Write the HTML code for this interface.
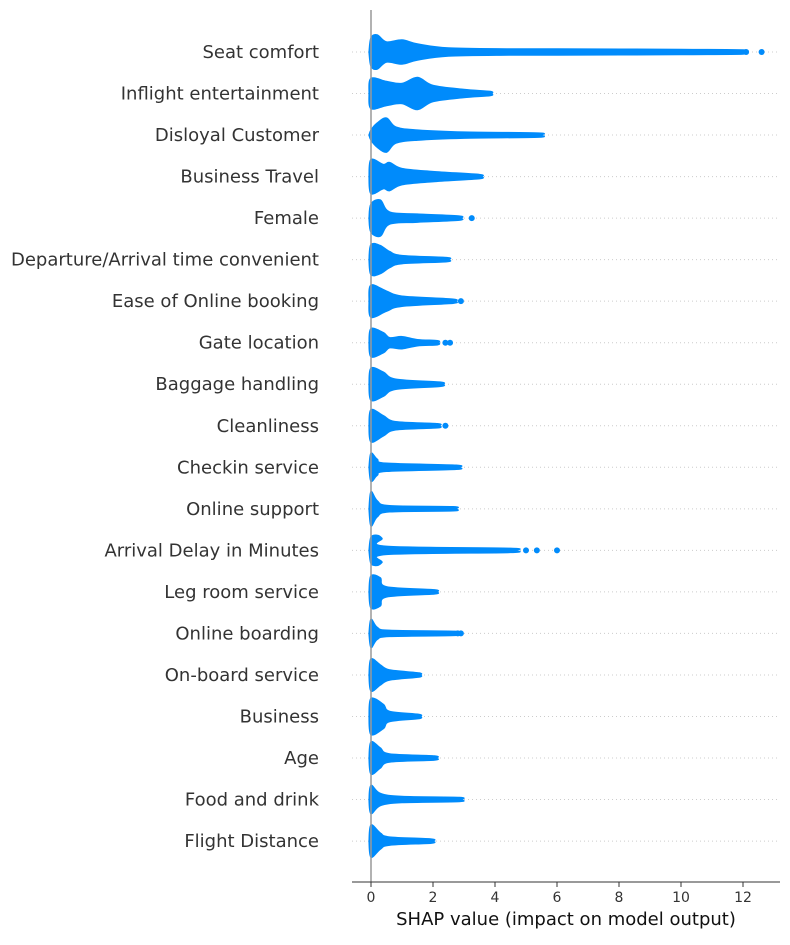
<!DOCTYPE html>
<html><head><meta charset="utf-8"><style>
body{margin:0;background:#fff}
svg text{font-family:"DejaVu Sans","Liberation Sans",sans-serif}
</style></head><body>
<svg id="chart" width="790" height="940" xmlns="http://www.w3.org/2000/svg">
<g id="grid"></g><g id="marks"></g><g id="labels"></g><g id="axis"></g>
</svg>
<script>
const features=["Seat comfort","Inflight entertainment","Disloyal Customer","Business Travel","Female","Departure/Arrival time convenient","Ease of Online booking","Gate location","Baggage handling","Cleanliness","Checkin service","Online support","Arrival Delay in Minutes","Leg room service","Online boarding","On-board service","Business","Age","Food and drink","Flight Distance"];
const profiles=[
[[0,14],[0.2,17],[0.5,10],[1,12],[1.5,8],[2.5,4],[4.5,3],[6,3],[10,2.5],[12,2]],
[[0,15],[0.5,12],[1,10],[1.5,16],[2,8],[3,4],[3.85,2]],
[[0,5],[0.2,12],[0.5,17],[0.8,8],[1.5,5],[3,3],[5.4,2]],
[[0,17],[0.4,12],[0.6,14],[1,8],[2,5],[3.5,2]],
[[0,14],[0.3,18],[0.6,6],[1.5,4],[2.85,2]],
[[0,15],[0.3,14],[0.6,8],[1,4],[2.45,2]],
[[0,16],[0.5,10],[1,5],[2.65,2]],
[[0,14],[0.4,10],[0.6,5],[1.0,6],[1.5,3],[2.15,2]],
[[0,16],[0.4,12],[0.8,5],[2.25,2]],
[[0,16],[0.4,10],[0.8,4],[2.15,2]],
[[0,14],[0.2,8],[0.5,4],[2.75,2]],
[[0,17],[0.2,8],[0.6,3],[2.65,2]],
[[0,13],[0.2,15],[0.35,12],[0.5,4],[4.5,2]],
[[0,16],[0.3,14],[0.5,5],[2.05,2]],
[[0,14],[0.2,6],[0.6,3],[2.7,2]],
[[0,16],[0.3,10],[0.6,5],[1.55,2]],
[[0,18],[0.4,12],[0.6,5],[1.55,2]],
[[0,16],[0.3,10],[0.6,4],[2.05,2]],
[[0,14],[0.3,6],[1,3],[2.85,2]],
[[0,16],[0.3,8],[0.6,4],[1.95,2]]
];
const outliers=[[12.1,12.6],[],[],[],[3.25],[],[2.9],[2.4,2.55],[],[2.4],[],[],[5.0,5.35,6.0],[],[2.8,2.9],[],[],[],[],[]];
const xTicks=[0,2,4,6,8,10,12];
const NS="http://www.w3.org/2000/svg";
const xs=v=>371+v*31;
const ys=i=>52+i*41.53;
function mk(t,a,p){const e=document.createElementNS(NS,t);for(const k in a)e.setAttribute(k,a[k]);p.appendChild(e);return e;}
function smooth(pts){
  let d=`M${pts[0][0]},${pts[0][1]}`;
  for(let i=0;i<pts.length-1;i++){
    const p0=pts[Math.max(0,i-1)],p1=pts[i],p2=pts[i+1],p3=pts[Math.min(pts.length-1,i+2)];
    const c1=[p1[0]+(p2[0]-p0[0])/6,p1[1]+(p2[1]-p0[1])/6];
    const c2=[p2[0]-(p3[0]-p1[0])/6,p2[1]-(p3[1]-p1[1])/6];
    d+=` C${c1[0].toFixed(1)},${c1[1].toFixed(1)} ${c2[0].toFixed(1)},${c2[1].toFixed(1)} ${p2[0].toFixed(1)},${p2[1].toFixed(1)}`;
  }
  return d;
}
const grid=document.getElementById('grid'),marks=document.getElementById('marks'),labels=document.getElementById('labels'),axis=document.getElementById('axis');
features.forEach((f,i)=>{
  const y=ys(i);
  const g=mk('line',{x1:352,x2:780,y1:y,y2:y,stroke:'#ccc','stroke-width':1,'stroke-dasharray':'1,3'},grid);
  
  
  const t=mk('text',{x:319,y:y+6,'text-anchor':'end','font-size':18,fill:'#333'},labels);
  t.textContent=f;
  
  
  const pr=profiles[i];
  const last=pr[pr.length-1];
  const upPts=[[xs(-0.06),y]].concat(pr.map(p=>[xs(p[0]),y-p[1]]),[[xs(last[0])+1,y]]);
  const dnPts=[[xs(last[0])+1,y]].concat(pr.slice().reverse().map(p=>[xs(p[0]),y+p[1]]),[[xs(-0.06),y]]);
  const d=smooth(upPts)+' '+smooth(dnPts).replace(/^M[^C]*/,'')+' Z';
  const pg=mk('path',{d:d,fill:'#008bfb',stroke:'#008bfb','stroke-width':1.5,'stroke-linejoin':'round'},marks);
  
  
  outliers[i].forEach(v=>{
    const c=mk('circle',{cx:xs(v),cy:y,r:3,fill:'#008bfb'},marks);
    
    
  });
});
const vl=mk('line',{x1:371,x2:371,y1:10,y2:882,stroke:'#999','stroke-width':1.5},axis);


const al=mk('line',{x1:352,x2:780,y1:882,y2:882,stroke:'#333','stroke-width':1},axis);


xTicks.forEach(v=>{
  const tk=mk('line',{x1:xs(v),x2:xs(v),y1:882,y2:887,stroke:'#333'},axis);
  
  
  const tl=mk('text',{x:xs(v),y:902,'text-anchor':'middle','font-size':14,fill:'#333'},axis);
  tl.textContent=v;
  
  
});
const xt=mk('text',{x:566,y:925,'text-anchor':'middle','font-size':18,fill:'#111'},axis);
xt.textContent='SHAP value (impact on model output)';


</script>
</body></html>
